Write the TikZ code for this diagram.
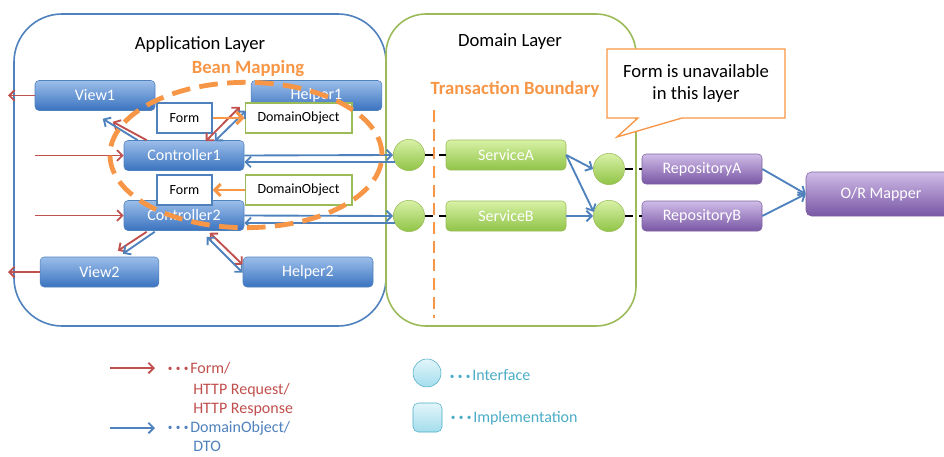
\documentclass[tikz,border=0pt]{standalone}
\usepackage{fontspec}
\setmainfont{Carlito}
\usetikzlibrary{arrows.meta,calc}

\definecolor{appblue}{HTML}{4F81BD}
\definecolor{apptop}{HTML}{9CBEEA}
\definecolor{appbot}{HTML}{3A73C0}
\definecolor{domgreen}{HTML}{9BBB59}
\definecolor{svctop}{HTML}{D8F2A6}
\definecolor{svcbot}{HTML}{90C347}
\definecolor{repotop}{HTML}{D0BCE8}
\definecolor{repobot}{HTML}{7856A4}
\definecolor{repoline}{HTML}{7E62A0}
\definecolor{beanorange}{HTML}{F79646}
\definecolor{httpred}{HTML}{C0504D}
\definecolor{ifcyan}{HTML}{4BACC6}
\definecolor{cyantop}{HTML}{E2F5FA}
\definecolor{cyanbot}{HTML}{A3DDEC}

\newcommand\tridots{\foreach \k in {1,2,3}{\makebox[6pt]{\raisebox{1pt}{\fontsize{7}{7}\selectfont •}}}}

\begin{document}
\begin{tikzpicture}[x=0.75pt,y=-0.75pt,
    >={Straight Barb[length=4pt,width=8pt]},
    lbl/.style={font=\fontsize{12}{14}\selectfont},
    title/.style={font=\fontsize{14}{16}\selectfont},
    appbox/.style={draw=appblue, rounded corners=3pt, top color=apptop, bottom color=appbot,
        text=white, minimum width=90pt, minimum height=22.5pt, inner sep=0pt, lbl},
    svcbox/.style={draw=domgreen, rounded corners=3pt, top color=svctop, bottom color=svcbot,
        text=white, minimum width=90pt, minimum height=22.5pt, inner sep=0pt, lbl},
    repobox/.style={draw=repoline, rounded corners=3pt, top color=repotop, bottom color=repobot,
        text=white, minimum width=90pt, minimum height=22.5pt, inner sep=0pt, lbl},
    objbox/.style={fill=white, line width=1pt, minimum height=22.5pt, inner sep=0pt,
        font=\fontsize{10.5}{12}\selectfont},
    ifball/.style={circle, draw=domgreen, top color=svctop, bottom color=svcbot,
        minimum size=23.5pt, inner sep=0pt},
    reqarrow/.style={->, httpred, line width=1.4pt},
    dtoarrow/.style={->, appblue, line width=1.4pt},
    maparrow/.style={-{Straight Barb[length=4.5pt,width=9pt]}, beanorange, line width=2.2pt},
    linkline/.style={line width=1.5pt, dash pattern=on 6pt off 4.5pt}
]
    \useasboundingbox (0,0) rectangle (944,456);

    % 两个层
    \draw[appblue, line width=1.2pt, rounded corners=36pt] (14,14) rectangle (386,326);
    \draw[domgreen, line width=1.2pt, rounded corners=30pt] (386,14) rectangle (636,326);
    \node[title] (appTitle) at (200,45) {Application Layer};
    \node[title] (domTitle) at (510,42) {Domain Layer};
    \node[title, font=\bfseries\fontsize{14}{16}\selectfont, beanorange] (beanTitle) at (248,69) {Bean Mapping};
    \node[title, font=\bfseries\fontsize{14}{16}\selectfont, beanorange] (txTitle) at (515,89) {Transaction Boundary};

    % Application Layer 的组件
    \node[appbox] (view1) at (95,95.5) {View1};
    \node[appbox, minimum width=98pt] (helper1) at (316.5,95.5) {Helper1};
    \node[appbox] (ctrl1) at (184,155.5) {Controller1};
    \node[appbox] (ctrl2) at (184,215.5) {Controller2};
    \node[appbox, minimum width=89pt] (view2) at (99.5,272) {View2};
    \node[appbox, minimum width=97.5pt] (helper2) at (308,272) {Helper2};

    \node[objbox, draw=appblue, minimum width=41.25pt] (form1) at (184.5,118) {Form};
    \node[objbox, draw=domgreen, minimum width=80pt] (do1) at (298.5,118) {DomainObject};
    \node[objbox, draw=appblue, minimum width=41.25pt] (form2) at (184.5,190) {Form};
    \node[objbox, draw=domgreen, minimum width=80pt] (do2) at (298.5,190) {DomainObject};

    % Domain Layer 的组件
    \foreach \n/\x/\y in {ifA/409/155, ifB/409/216, ifRA/609/169, ifRB/609/216} {
        \node[ifball] (\n) at (\x,\y) {};
    }
    \node[svcbox] (svcA) at (506,155) {ServiceA};
    \node[svcbox] (svcB) at (506,216) {ServiceB};
    \node[repobox] (repoA) at (702,169) {RepositoryA};
    \node[repobox] (repoB) at (702,216) {RepositoryB};
    \node[repobox, minimum width=112.5pt, minimum height=33pt, rounded corners=4pt] (orm) at (881,194) {O/R Mapper};

    \coordinate (txTop) at (434,110);
    \coordinate (txBot) at (434,318);
    \draw[beanorange, line width=2.2pt, dash pattern=on 9pt off 5pt] (txTop) -- (txBot);

    % 请求 / 响应
    \coordinate (reqIn1) at (35,155.5);
    \coordinate (reqIn2) at (35,215.5);
    \coordinate (resOut1) at (8,95.5);
    \coordinate (resOut2) at (8,272);
    \draw[reqarrow] (reqIn1) -- (ctrl1.west);
    \draw[reqarrow] (reqIn2) -- (ctrl2.west);
    \draw[reqarrow] (view1.west) -- (resOut1);
    \draw[reqarrow] (view2.west) -- (resOut2);

    \draw[reqarrow] ($(ctrl1.north west)+(23,0)$) -- ($(view1.south west)+(78,11)$);
    \draw[dtoarrow] ($(ctrl1.north west)+(14,0)$) -- ($(view1.south west)+(68,8)$);
    \draw[reqarrow, <->] ($(ctrl1.north west)+(82,1)$) -- ($(helper1.south west)+(-11,-4)$);
    \draw[dtoarrow, <->] ($(ctrl1.north west)+(91,1)$) -- ($(helper1.south west)+(-5,0)$);
    \draw[reqarrow] ($(ctrl2.south west)+(23,1)$) -- ($(view2.north west)+(78,-6)$);
    \draw[dtoarrow] ($(ctrl2.south west)+(31,1)$) -- ($(view2.north west)+(83,-3)$);
    \draw[reqarrow, <->] ($(ctrl2.south west)+(86,2)$) -- ($(helper2.north west)+(0,8)$);
    \draw[dtoarrow, <->] ($(ctrl2.south west)+(83,6)$) -- ($(helper2.north west)+(0,16)$);

    \draw[maparrow] (form1.east) -- (do1.west);
    \draw[maparrow] (do2.west) -- (form2.east);

    % DomainObject 的流向
    \draw[dtoarrow] (ctrl1.east) -- (ifA.west);
    \draw[dtoarrow] (ifA.206) -- (ifA.206 -| ctrl1.east);
    \draw[dtoarrow] (ctrl2.east) -- (ifB.west);
    \draw[dtoarrow] (ifB.206) -- (ifB.206 -| ctrl2.east);
    \draw[dtoarrow] (svcA.east) -- (ifRA.west);
    \draw[dtoarrow] (svcA.east) -- (ifRB.165);
    \draw[dtoarrow] (svcB.east) -- (ifRB.west);
    \draw[dtoarrow] (repoA.east) -- (orm.west);
    \draw[dtoarrow] (repoB.east) -- (orm.west);

    \draw[linkline] (ifA.east) -- (svcA.west);
    \draw[linkline] (ifB.east) -- (svcB.west);
    \draw[linkline] (ifRA.east) -- (repoA.west);
    \draw[linkline] (ifRB.east) -- (repoB.west);

    % Bean Mapping 的范围
    \draw[beanorange, line width=3.6pt, dash pattern=on 14pt off 7pt]
        (246,155) ellipse [x radius=102pt, y radius=54.5pt];

    % 气泡说明
    \draw[beanorange, line width=1pt, fill=white]
        (607,49) -- (785,49) -- (785,118) -- (682,118) -- (617,137) -- (638,118) -- (607,118) -- cycle;
    \node[font=\fontsize{14}{16.5}\selectfont, align=center] (note) at (696,84) {Form is unavailable\\in this layer};

    % 图例
    \coordinate (lgReqS) at (110,368);
    \coordinate (lgReqE) at (155,368);
    \coordinate (lgDtoS) at (110,428);
    \coordinate (lgDtoE) at (155,428);
    \draw[reqarrow] (lgReqS) -- (lgReqE);
    \draw[dtoarrow] (lgDtoS) -- (lgDtoE);
    \node[lbl, httpred, anchor=west, inner sep=0pt] (lgForm) at (166,368) {\tridots Form/};
    \node[lbl, httpred, anchor=west, inner sep=0pt] (lgReq) at (193,390) {HTTP Request/};
    \node[lbl, httpred, anchor=west, inner sep=0pt] (lgRes) at (193,410) {HTTP Response};
    \node[lbl, appblue, anchor=west, inner sep=0pt] (lgDo) at (166,428) {\tridots DomainObject/};
    \node[lbl, appblue, anchor=west, inner sep=0pt] (lgDto) at (193,446) {DTO};

    \node[circle, draw=ifcyan, top color=cyantop, bottom color=cyanbot, minimum size=21pt, inner sep=0pt] (lgIf) at (427,373) {};
    \node[draw=ifcyan, rounded corners=4pt, top color=cyantop, bottom color=cyanbot, minimum size=21.75pt, inner sep=0pt] (lgImpl) at (427.5,417.5) {};
    \node[lbl, ifcyan, anchor=west, inner sep=0pt] (lgIfText) at (448,375) {\tridots Interface};
    \node[lbl, ifcyan, anchor=west, inner sep=0pt] (lgImplText) at (449,418) {\tridots Implementation};
\end{tikzpicture}
\end{document}
